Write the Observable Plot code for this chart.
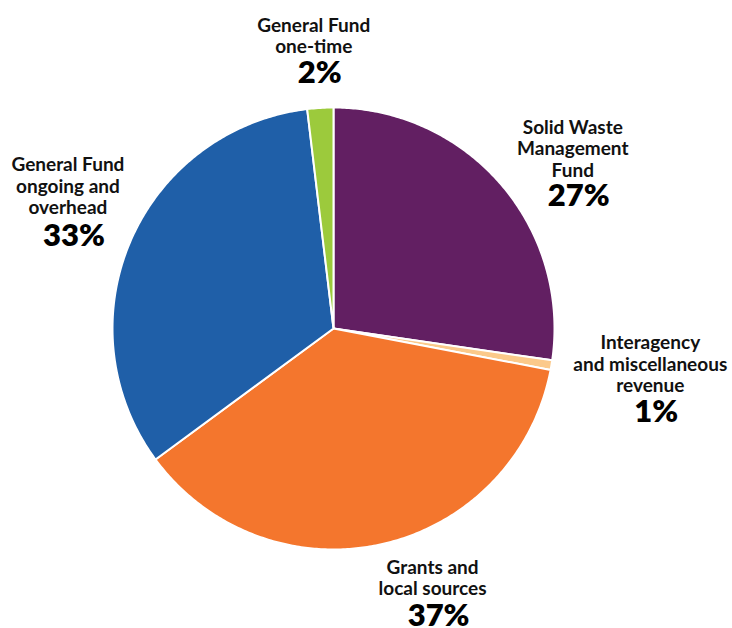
<!DOCTYPE html>
<html>
<head>
<meta charset="utf-8">
<script src="https://cdn.jsdelivr.net/npm/d3@7"></script>
<script src="https://cdn.jsdelivr.net/npm/@observablehq/plot@0.6"></script>
<style>
  html, body { margin: 0; padding: 0; background: #fff; }
  #chart svg { display: block; }
</style>
</head>
<body>
<div id="chart"></div>
<script>
// ---- data ----
const categories = [
  "Solid Waste Management Fund",
  "Interagency and miscellaneous revenue",
  "Grants and local sources",
  "General Fund ongoing and overhead",
  "General Fund one-time"
];
const shares = [27.3, 0.7, 36.9, 33.2, 1.9];
const labelLines = [
  "Solid Waste\nManagement\nFund",
  "Interagency\nand miscellaneous\nrevenue",
  "Grants and\nlocal sources",
  "General Fund\nongoing and\noverhead",
  "General Fund\none-time"
];
const percentLabels = ["27%", "1%", "37%", "33%", "2%"];
const colors = ["#621f62", "#fbc98a", "#f4762d", "#1f5fa8", "#9cca3c"];

// ---- layout ----
const W = 732, H = 628;
const cx = 333, cy = 328, R = 221; // pixel geometry of the pie
// per-label offsets in pixels: [dx, dy of percentage, dy of name]
const nudges = [[27, 39, 32], [40, 25, 17], [37, 2, -7], [-8, 7, -3], [-3, 13, 5]];

const slices = d3.pie().sort(null).value(d => d.value)(
  categories.map((name, i) => ({name, value: shares[i]}))
);

// polygon outline of each slice in unit-radius coordinates
const poly = [];
for (const s of slices) {
  poly.push({name: s.data.name, x: 0, y: 0});
  const n = Math.max(2, Math.ceil((s.endAngle - s.startAngle) / 0.01));
  for (let k = 0; k <= n; k++) {
    const a = s.startAngle + (s.endAngle - s.startAngle) * k / n;
    poly.push({name: s.data.name, x: Math.sin(a), y: Math.cos(a)});
  }
}

const labelR = 1.27;
const labels = slices.map((s, i) => {
  const a = (s.startAngle + s.endAngle) / 2;
  return {name: s.data.name, text: labelLines[i], pct: percentLabels[i],
          x: labelR * Math.sin(a), y: labelR * Math.cos(a)};
});

const font = "Lato, 'Noto Sans', sans-serif";
const labelMarks = labels.flatMap((d, i) => [
  Plot.text([d], {x: "x", y: "y", text: "text", lineAnchor: "bottom",
    fontSize: 19, fontWeight: 700, lineHeight: 1.13, fill: "#111",
    dx: nudges[i][0], dy: nudges[i][2]}),
  Plot.text([d], {x: "x", y: "y", text: "pct", lineAnchor: "top",
    fontSize: 31, fontWeight: 800, fill: "#000",
    dx: nudges[i][0] + 6, dy: nudges[i][1]})
]);

const chart = Plot.plot({
  width: W, height: H,
  margin: 0,
  style: {fontFamily: font, background: "#fff"},
  x: {domain: [-cx / R, (W - cx) / R], axis: null},
  y: {domain: [-(H - cy) / R, cy / R], axis: null},
  color: {domain: categories, range: colors},
  marks: [
    Plot.line(poly, {x: "x", y: "y", z: "name", fill: "name",
      stroke: "white", strokeWidth: 2, strokeLinejoin: "round", curve: "linear-closed"}),
    ...labelMarks
  ]
});
document.getElementById("chart").appendChild(chart);
</script>
</body>
</html>
